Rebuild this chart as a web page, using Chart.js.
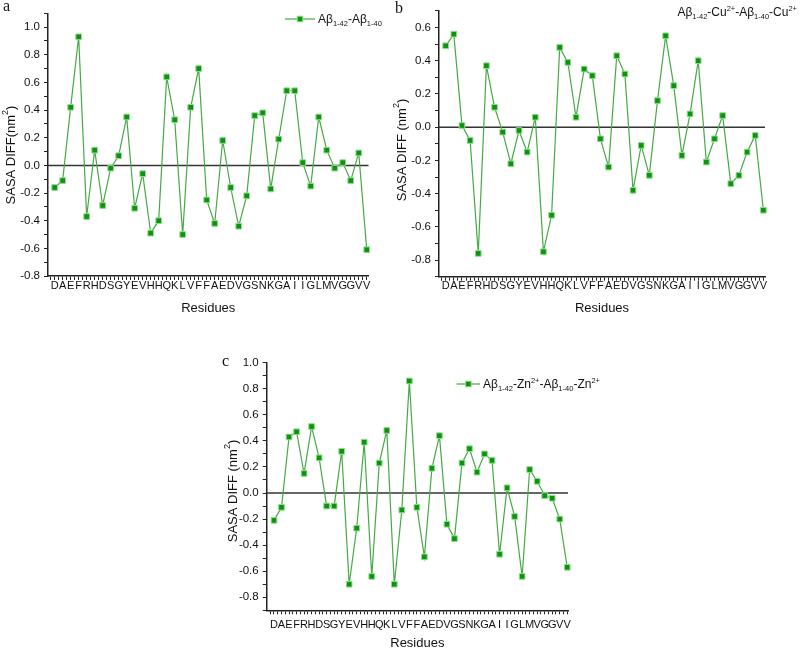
<!DOCTYPE html>
<html>
<head>
<meta charset="utf-8">
<script src="https://cdn.jsdelivr.net/npm/chart.js@4"></script>
<style>
  body { margin: 0; background: #fff; width: 800px; height: 649px; position: relative; overflow: hidden; }
  canvas { position: absolute; }
</style>
</head>
<body>
<canvas id="graficoA" width="390" height="320" style="left:0;top:0"></canvas>
<canvas id="graficoB" width="410" height="320" style="left:390px;top:0"></canvas>
<canvas id="graficoC" width="420" height="319" style="left:200px;top:330px"></canvas>
<script>
// residuos do Abeta 1-40 (eixo x)
const residuos = ["D","A","E","F","R","H","D","S","G","Y","E","V","H","H","Q","K","L","V","F","F",
                  "A","E","D","V","G","S","N","K","G","A","I","I","G","L","M","V","G","G","V","V"];

// a) Ab1-42 - Ab1-40
const diffA = [-0.16, -0.11, 0.42, 0.93, -0.37, 0.11, -0.29, -0.02, 0.07, 0.35,
               -0.31, -0.06, -0.49, -0.40, 0.64, 0.33, -0.50, 0.42, 0.70, -0.25,
               -0.42, 0.18, -0.16, -0.44, -0.22, 0.36, 0.38, -0.17, 0.19, 0.54,
               0.54, 0.02, -0.15, 0.35, 0.11, -0.02, 0.02, -0.11, 0.09, -0.61];
// b) com Cu2+
const diffB = [0.49, 0.56, 0.01, -0.08, -0.76, 0.37, 0.12, -0.03, -0.22, -0.02,
               -0.15, 0.06, -0.75, -0.53, 0.48, 0.39, 0.06, 0.35, 0.31, -0.07,
               -0.24, 0.43, 0.32, -0.38, -0.11, -0.29, 0.16, 0.55, 0.25, -0.17,
               0.08, 0.40, -0.21, -0.07, 0.07, -0.34, -0.29, -0.15, -0.05, -0.50];
// c) com Zn2+
const diffC = [-0.21, -0.11, 0.43, 0.47, 0.15, 0.51, 0.27, -0.10, -0.10, 0.32,
               -0.70, -0.27, 0.39, -0.64, 0.23, 0.48, -0.70, -0.13, 0.86, -0.11,
               -0.49, 0.19, 0.44, -0.24, -0.35, 0.23, 0.34, 0.16, 0.30, 0.25,
               -0.47, 0.04, -0.18, -0.64, 0.18, 0.09, -0.02, -0.04, -0.20, -0.57];

const ticksYA = [-0.8, -0.6, -0.4, -0.2, 0.0, 0.2, 0.4, 0.6, 0.8, 1.0];
const ticksYB = [-0.8, -0.6, -0.4, -0.2, 0.0, 0.2, 0.4, 0.6];
const ticksYC = [-0.8, -0.6, -0.4, -0.2, 0.0, 0.2, 0.4, 0.6, 0.8, 1.0];

const FONTE = "'Liberation Sans', Arial, sans-serif";
const COR_LINHA = '#45aa45';
const COR_PONTO = '#0a960a';
const COR_BORDA_PONTO = '#95d895';

function desenharPonto(ctx, x, y) {
  ctx.fillStyle = COR_PONTO;
  ctx.strokeStyle = COR_BORDA_PONTO;
  ctx.lineWidth = 1;
  ctx.fillRect(x - 2.8, y - 2.8, 5.6, 5.6);
  ctx.strokeRect(x - 2.8, y - 2.8, 5.6, 5.6);
}

const linhaZero = {
  id: 'linhaZero',
  beforeDatasetsDraw(chart) {
    const { ctx, chartArea, scales } = chart;
    const y = scales.y.getPixelForValue(0);
    ctx.save();
    ctx.strokeStyle = '#333';
    ctx.lineWidth = 1.5;
    ctx.beginPath();
    ctx.moveTo(chartArea.left, y);
    ctx.lineTo(chartArea.right, y);
    ctx.stroke();
    ctx.restore();
  }
};

function larguraPartes(ctx, partes) {
  let w = 0;
  partes.forEach(([texto, tipo]) => {
    ctx.font = (tipo === 'n' ? 12 : 7.5) + 'px ' + FONTE;
    w += ctx.measureText(texto).width;
  });
  return w;
}

function pluginTextos(cfg) {
  return {
    id: 'textos',
    afterDraw(chart) {
      const ctx = chart.ctx;
      const area = chart.chartArea;
      ctx.save();
      ctx.fillStyle = '#111';

      // letra do painel
      ctx.font = "16px 'Liberation Serif', serif";
      ctx.textAlign = 'left';
      ctx.textBaseline = 'alphabetic';
      ctx.fillText(cfg.letra[0], cfg.letra[1], cfg.letra[2]);

      // titulo x
      ctx.font = '13px ' + FONTE;
      ctx.textAlign = 'center';
      ctx.textBaseline = 'middle';
      ctx.fillText('Residues', (area.left + area.right) / 2, cfg.tituloX);

      // titulo y
      ctx.save();
      ctx.translate(cfg.tituloY[0], cfg.tituloY[1]);
      ctx.rotate(-Math.PI / 2);
      ctx.font = '13px ' + FONTE;
      const base = cfg.tituloY[2];
      const w1 = ctx.measureText(base).width;
      ctx.font = '9px ' + FONTE;
      const w2 = ctx.measureText('2').width;
      ctx.font = '13px ' + FONTE;
      const w3 = ctx.measureText(')').width;
      let x = -(w1 + w2 + w3) / 2;
      ctx.textAlign = 'left';
      ctx.fillText(base, x, 0);
      x += w1;
      ctx.font = '9px ' + FONTE;
      ctx.fillText('2', x, -5);
      x += w2;
      ctx.font = '13px ' + FONTE;
      ctx.fillText(')', x, 0);
      ctx.restore();

      // legenda
      const leg = cfg.legenda;
      let lx = leg.fim ? leg.fim - larguraPartes(ctx, leg.partes) : leg.x;
      if (leg.marcador) {
        ctx.strokeStyle = COR_LINHA;
        ctx.lineWidth = 1.2;
        ctx.beginPath();
        ctx.moveTo(lx, leg.y);
        ctx.lineTo(lx + leg.marcador, leg.y);
        ctx.stroke();
        desenharPonto(ctx, lx + leg.marcador / 2, leg.y);
        lx += leg.marcador + 3;
      }
      ctx.fillStyle = '#111';
      ctx.textAlign = 'left';
      ctx.textBaseline = 'alphabetic';
      leg.partes.forEach(([texto, tipo]) => {
        const tam = tipo === 'n' ? 12 : 7.5;
        const dy = tipo === 'sub' ? 3 : (tipo === 'sup' ? -5 : 0);
        ctx.font = tam + 'px ' + FONTE;
        ctx.fillText(texto, lx, leg.y + 4.3 + dy);
        lx += ctx.measureText(texto).width;
      });
      ctx.restore();
    }
  };
}

function criarGrafico(id, valores, ticksY, cfg) {
  const ctx = document.getElementById(id);
  return new Chart(ctx, {
    type: 'line',
    data: {
      datasets: [{
        data: valores.map((v, i) => ({ x: i + 1, y: v })),
        borderColor: COR_LINHA,
        borderWidth: 1.2,
        pointStyle: 'rect',
        pointRadius: 4,
        pointBackgroundColor: COR_PONTO,
        pointBorderColor: COR_BORDA_PONTO,
        pointBorderWidth: 1,
        tension: 0,
        clip: false
      }]
    },
    options: {
      responsive: false,
      animation: false,
      events: [],
      layout: { padding: cfg.padding },
      plugins: { legend: { display: false }, tooltip: { enabled: false } },
      scales: {
        x: {
          type: 'linear',
          min: cfg.xMin,
          max: cfg.xMax,
          afterFit: (s) => { s.height = cfg.alturaX; },
          afterBuildTicks: (s) => {
            const t = [];
            for (let k = 1; k <= 80; k++) t.push({ value: k / 2 });
            s.ticks = t;
          },
          ticks: {
            autoSkip: false, maxRotation: 0, minRotation: 0,
            padding: cfg.padX, color: '#111',
            font: { family: FONTE, size: 11 },
            callback: (v) => Number.isInteger(v) ? residuos[v - 1] : ''
          },
          grid: { drawOnChartArea: false, tickLength: 4, color: '#222' },
          border: { color: '#222', width: 1.5 }
        },
        y: {
          min: cfg.yMin,
          max: cfg.yMax,
          afterFit: (s) => { s.width = cfg.larguraY; },
          afterBuildTicks: (s) => {
            const t = [];
            for (let k = Math.round(cfg.yMin * 10); k <= Math.round(cfg.yMax * 10); k++) t.push({ value: k / 10 });
            s.ticks = t;
          },
          ticks: {
            autoSkip: false, padding: 4, color: '#111',
            font: { family: FONTE, size: 11.5 },
            callback: (v) => ticksY.some(m => Math.abs(m - v) < 1e-6) ? (Math.abs(v) < 1e-6 ? '0.0' : v.toFixed(1)) : ''
          },
          grid: { drawOnChartArea: false, tickLength: 4, color: '#222' },
          border: { color: '#222', width: 1.5 }
        }
      }
    },
    plugins: [linhaZero, pluginTextos(cfg)]
  });
}

criarGrafico('graficoA', diffA, ticksYA, {
  padding: { left: 0, top: 13.3, right: 21.5, bottom: 0 },
  larguraY: 48, alturaX: 44, padX: -1,
  xMin: 0.17, xMax: 40.22, yMin: -0.8, yMax: 1.1,
  letra: ['a', 3, 11], tituloX: 308, tituloY: [11, 155, 'SASA DIFF(nm'],
  legenda: { x: 285, y: 19, marcador: 30,
    partes: [['A\u03B2', 'n'], ['1-42', 'sub'], ['-A\u03B2', 'n'], ['1-40', 'sub']] }
});

criarGrafico('graficoB', diffB, ticksYB, {
  padding: { left: 0, top: 10.7, right: 35, bottom: 0 },
  larguraY: 49, alturaX: 43.3, padX: -1,
  xMin: 0.18, xMax: 40.2, yMin: -0.9, yMax: 0.7,
  letra: ['b', 5, 13], tituloX: 308, tituloY: [12, 150, 'SASA DIFF (nm'],
  legenda: { fim: 407, y: 12, marcador: 0,
    partes: [['A\u03B2', 'n'], ['1-42', 'sub'], ['-Cu', 'n'], ['2+', 'sup'],
             ['-A\u03B2', 'n'], ['1-40', 'sub'], ['-Cu', 'n'], ['2+', 'sup']] }
});

criarGrafico('graficoC', diffC, ticksYC, {
  padding: { left: 0, top: 32.7, right: 52, bottom: 0 },
  larguraY: 66.7, alturaX: 38.7, padX: 4,
  xMin: 0.03, xMax: 40.1, yMin: -0.9, yMax: 1.0,
  letra: ['c', 22, 36], tituloX: 313, tituloY: [33, 161, 'SASA DIFF (nm'],
  legenda: { x: 256.7, y: 54, marcador: 23.3,
    partes: [['A\u03B2', 'n'], ['1-42', 'sub'], ['-Zn', 'n'], ['2+', 'sup'],
             ['-A\u03B2', 'n'], ['1-40', 'sub'], ['-Zn', 'n'], ['2+', 'sup']] }
});
</script>
</body>
</html>
